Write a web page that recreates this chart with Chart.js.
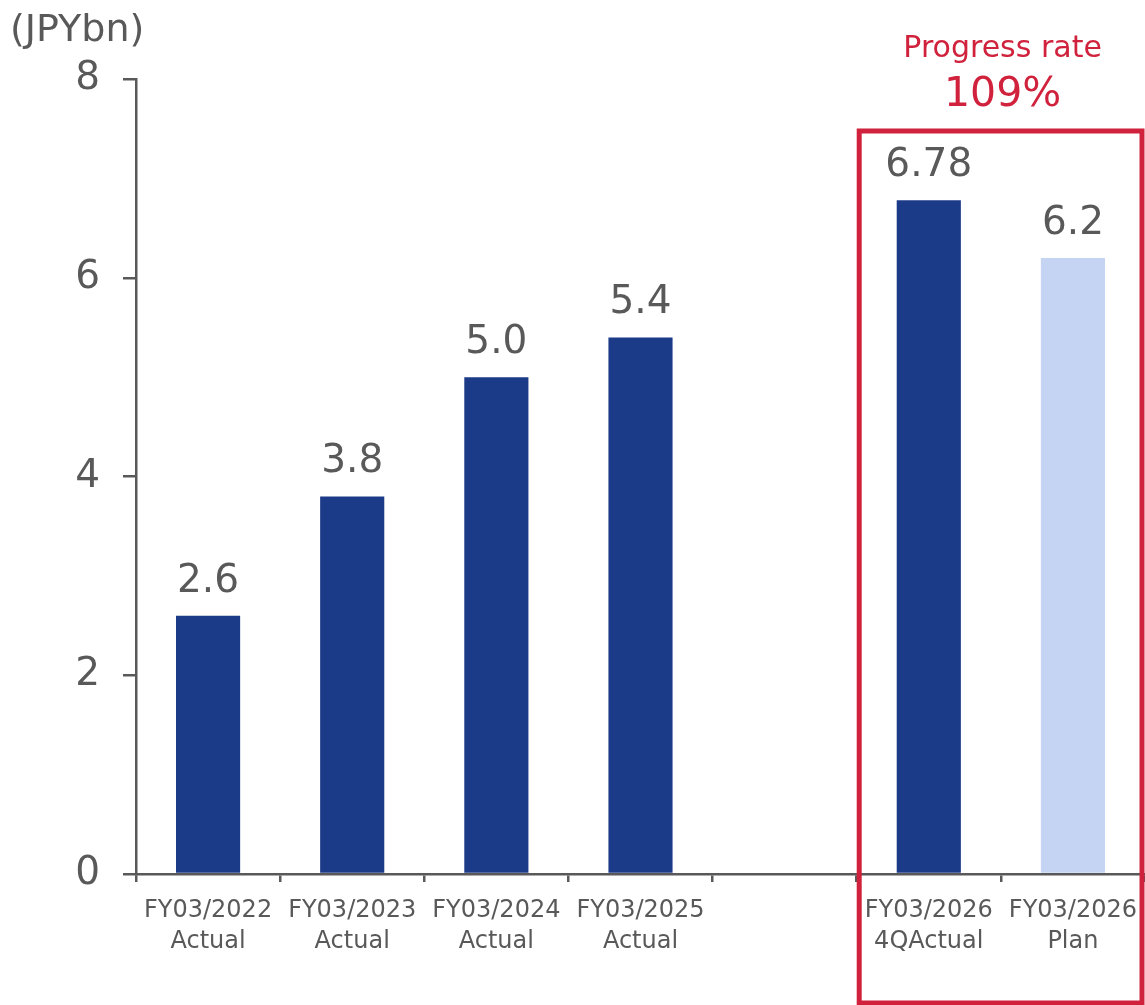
<!DOCTYPE html>
<html>
<head>
<meta charset="utf-8">
<script src="https://cdn.jsdelivr.net/npm/chart.js@4/dist/chart.umd.min.js"></script>
<style>
  html, body { margin: 0; padding: 0; background: #ffffff; }
  #wrap { width: 1145px; height: 1005px; position: relative; }
</style>
</head>
<body>
<div id="wrap"><canvas id="c" width="1145" height="1005"></canvas></div>
<script>
// Fiscal-year categories (index 4 is an intentional blank spacer)
const categories = [
  ['FY03/2022', 'Actual'],
  ['FY03/2023', 'Actual'],
  ['FY03/2024', 'Actual'],
  ['FY03/2025', 'Actual'],
  '',
  ['FY03/2026', '4QActual'],
  ['FY03/2026', 'Plan']
];
// Values in JPY billions
const values = [2.6, 3.8, 5.0, 5.4, null, 6.78, 6.2];
const valueDecimals = [1, 1, 1, 1, 0, 2, 1];
const yTicks = [0, 2, 4, 6, 8];
const unitLabel = '(JPYbn)';
const progressTitle = 'Progress rate';

const DARK = '#1B3A87';
const LIGHT = '#C4D4F2';
const RED = '#D0223C';
const GRAY = '#595959';
const FONT = "'DejaVu Sans', Verdana, sans-serif";

const barColors = values.map((v, i) => i === values.length - 1 ? LIGHT : DARK);

// Numbers above each bar, taken from the same values
const valueLabels = {
  id: 'valueLabels',
  afterDatasetsDraw(chart) {
    const ctx = chart.ctx;
    const meta = chart.getDatasetMeta(0);
    ctx.save();
    ctx.fillStyle = GRAY;
    ctx.font = '39px ' + FONT;
    ctx.textAlign = 'center';
    ctx.textBaseline = 'alphabetic';
    meta.data.forEach((bar, i) => {
      const v = values[i];
      if (v === null) return;
      ctx.fillText(v.toFixed(valueDecimals[i]), bar.x, bar.y - 24);
    });
    ctx.restore();
  }
};

// Unit caption, highlight frame and progress-rate callout
const decorations = {
  id: 'decorations',
  afterDraw(chart) {
    const ctx = chart.ctx;
    const xs = chart.scales.x;
    const area = chart.chartArea;
    ctx.save();
    ctx.fillStyle = GRAY;
    ctx.font = '38px ' + FONT;
    ctx.textAlign = 'left';
    ctx.textBaseline = 'middle';
    ctx.fillText(unitLabel, 10, 31);

    const left = (xs.getPixelForValue(4) + xs.getPixelForValue(5)) / 2 + 2.5;
    const right = chart.width - 3;
    const top = area.top + 52;
    const bottom = chart.height - 2;
    ctx.strokeStyle = RED;
    ctx.lineWidth = 5;
    ctx.strokeRect(left, top, right - left, bottom - top);

    const rate = Math.round(values[5] / values[6] * 100);
    const cx = (left + right) / 2 + 2;
    ctx.fillStyle = RED;
    ctx.textAlign = 'center';
    ctx.font = '30px ' + FONT;
    ctx.fillText(progressTitle, cx, 49);
    ctx.font = '41px ' + FONT;
    ctx.fillText(rate + '%', cx, 95);
    ctx.restore();
  }
};

new Chart(document.getElementById('c'), {
  type: 'bar',
  data: {
    labels: categories,
    datasets: [{
      data: values,
      backgroundColor: barColors,
      borderWidth: 0,
      barPercentage: 0.445,
      categoryPercentage: 1.0
    }]
  },
  options: {
    responsive: false,
    animation: false,
    devicePixelRatio: 1,
    layout: { padding: { top: 79, right: 0, bottom: 0, left: 0 } },
    plugins: { legend: { display: false }, tooltip: { enabled: false } },
    scales: {
      x: {
        offset: true,
        grid: {
          offset: true,
          drawOnChartArea: false,
          drawTicks: true,
          tickLength: 8,
          color: GRAY,
          lineWidth: 2.5
        },
        border: { display: true, color: GRAY, width: 2.5 },
        ticks: {
          color: GRAY,
          font: { family: FONT, size: 24, lineHeight: 1.29 },
          padding: 13,
          maxRotation: 0,
          minRotation: 0,
          autoSkip: false
        },
        afterFit(scale) {
          scale.height = 131;
          scale.paddingLeft = 0;
          scale.paddingRight = 0;
        }
      },
      y: {
        min: 0,
        max: 8,
        afterBuildTicks(scale) { scale.ticks = yTicks.map(v => ({ value: v })); },
        grid: {
          drawOnChartArea: false,
          drawTicks: true,
          tickLength: 13,
          color: GRAY,
          lineWidth: 2.5
        },
        border: { display: true, color: GRAY, width: 2.5 },
        ticks: {
          color: GRAY,
          font: { family: FONT, size: 39 },
          padding: 23
        },
        afterFit(scale) { scale.width = 136; }
      }
    }
  },
  plugins: [valueLabels, decorations]
});
</script>
</body>
</html>
